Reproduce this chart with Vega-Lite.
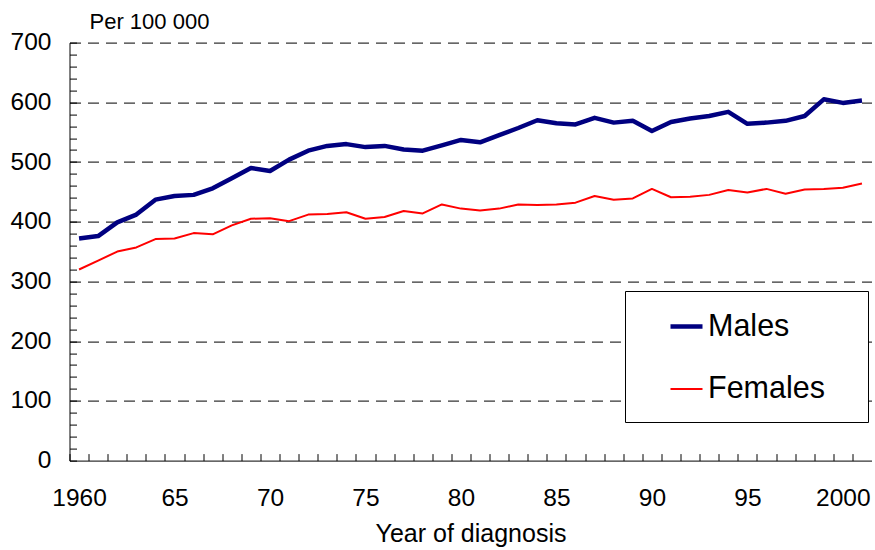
{
  "$schema": "https://vega.github.io/schema/vega-lite/v6.json",
  "width": 802,
  "height": 418,
  "autosize": "none",
  "padding": {"left": 69.5, "top": 42.6, "right": 3.5, "bottom": 89.4},
  "background": "white",
  "config": {"view": {"stroke": null}, "font": "Liberation Sans"},
  "data": {"values": [
    {"year":1960,"sex":"Males","rate":372},{"year":1961,"sex":"Males","rate":376},{"year":1962,"sex":"Males","rate":399},{"year":1963,"sex":"Males","rate":412},{"year":1964,"sex":"Males","rate":437},{"year":1965,"sex":"Males","rate":443},{"year":1966,"sex":"Males","rate":445},{"year":1967,"sex":"Males","rate":456},{"year":1968,"sex":"Males","rate":473},{"year":1969,"sex":"Males","rate":490},{"year":1970,"sex":"Males","rate":485},{"year":1971,"sex":"Males","rate":504},{"year":1972,"sex":"Males","rate":519},{"year":1973,"sex":"Males","rate":527},{"year":1974,"sex":"Males","rate":530},{"year":1975,"sex":"Males","rate":525},{"year":1976,"sex":"Males","rate":527},{"year":1977,"sex":"Males","rate":521},{"year":1978,"sex":"Males","rate":519},{"year":1979,"sex":"Males","rate":528},{"year":1980,"sex":"Males","rate":537},{"year":1981,"sex":"Males","rate":533},{"year":1982,"sex":"Males","rate":545},{"year":1983,"sex":"Males","rate":557},{"year":1984,"sex":"Males","rate":570},{"year":1985,"sex":"Males","rate":565},{"year":1986,"sex":"Males","rate":563},{"year":1987,"sex":"Males","rate":574},{"year":1988,"sex":"Males","rate":566},{"year":1989,"sex":"Males","rate":569},{"year":1990,"sex":"Males","rate":552},{"year":1991,"sex":"Males","rate":567},{"year":1992,"sex":"Males","rate":573},{"year":1993,"sex":"Males","rate":577},{"year":1994,"sex":"Males","rate":584},{"year":1995,"sex":"Males","rate":564},{"year":1996,"sex":"Males","rate":566},{"year":1997,"sex":"Males","rate":569},{"year":1998,"sex":"Males","rate":577},{"year":1999,"sex":"Males","rate":605},{"year":2000,"sex":"Males","rate":599},{"year":2001,"sex":"Males","rate":603},
    {"year":1960,"sex":"Females","rate":320},{"year":1961,"sex":"Females","rate":335},{"year":1962,"sex":"Females","rate":350},{"year":1963,"sex":"Females","rate":357},{"year":1964,"sex":"Females","rate":371},{"year":1965,"sex":"Females","rate":372},{"year":1966,"sex":"Females","rate":381},{"year":1967,"sex":"Females","rate":379},{"year":1968,"sex":"Females","rate":394},{"year":1969,"sex":"Females","rate":405},{"year":1970,"sex":"Females","rate":406},{"year":1971,"sex":"Females","rate":401},{"year":1972,"sex":"Females","rate":412},{"year":1973,"sex":"Females","rate":413},{"year":1974,"sex":"Females","rate":416},{"year":1975,"sex":"Females","rate":405},{"year":1976,"sex":"Females","rate":408},{"year":1977,"sex":"Females","rate":418},{"year":1978,"sex":"Females","rate":414},{"year":1979,"sex":"Females","rate":429},{"year":1980,"sex":"Females","rate":422},{"year":1981,"sex":"Females","rate":419},{"year":1982,"sex":"Females","rate":422},{"year":1983,"sex":"Females","rate":429},{"year":1984,"sex":"Females","rate":428},{"year":1985,"sex":"Females","rate":429},{"year":1986,"sex":"Females","rate":432},{"year":1987,"sex":"Females","rate":443},{"year":1988,"sex":"Females","rate":437},{"year":1989,"sex":"Females","rate":439},{"year":1990,"sex":"Females","rate":455},{"year":1991,"sex":"Females","rate":441},{"year":1992,"sex":"Females","rate":442},{"year":1993,"sex":"Females","rate":445},{"year":1994,"sex":"Females","rate":453},{"year":1995,"sex":"Females","rate":449},{"year":1996,"sex":"Females","rate":455},{"year":1997,"sex":"Females","rate":447},{"year":1998,"sex":"Females","rate":454},{"year":1999,"sex":"Females","rate":455},{"year":2000,"sex":"Females","rate":457},{"year":2001,"sex":"Females","rate":464}
  ]},
  "mark": {"type": "line", "strokeJoin": "round"},
  "encoding": {
    "x": {
      "field": "year", "type": "quantitative",
      "scale": {"domain": [1959.5, 2001.5], "nice": false, "zero": false},
      "axis": {
        "values": [1959.5,1960.5,1961.5,1962.5,1963.5,1964.5,1965.5,1966.5,1967.5,1968.5,1969.5,1970.5,1971.5,1972.5,1973.5,1974.5,1975.5,1976.5,1977.5,1978.5,1979.5,1980.5,1981.5,1982.5,1983.5,1984.5,1985.5,1986.5,1987.5,1988.5,1989.5,1990.5,1991.5,1992.5,1993.5,1994.5,1995.5,1996.5,1997.5,1998.5,1999.5,2000.5],
        "labelExpr": "(datum.value + 0.5) % 5 === 0 ? (((datum.value + 0.5) === 1960 || (datum.value + 0.5) === 2000) ? toString(datum.value + 0.5) : toString((datum.value + 0.5) % 100)) : ''",
        "labelOffset": 9.55,
        "labelOverlap": false,
        "labelFlush": false,
        "labelBound": false,
        "tickSize": -7,
        "tickColor": "black",
        "domainColor": "black",
        "grid": false,
        "labelFontSize": 24.5,
        "labelColor": "black",
        "labelPadding": 33,
        "title": "Year of diagnosis",
        "titleFontSize": 25,
        "titleFontWeight": "normal",
        "titleColor": "black",
        "titleY": 80.4,
        "titleBaseline": "alphabetic"
      }
    },
    "y": {
      "field": "rate", "type": "quantitative",
      "scale": {"domain": [0, 700], "nice": false},
      "axis": {
        "values": [0,20,40,60,80,100,120,140,160,180,200,220,240,260,280,300,320,340,360,380,400,420,440,460,480,500,520,540,560,580,600,620,640,660,680,700],
        "labelExpr": "datum.value % 100 === 0 ? datum.label : ''",
        "labelOverlap": false,
        "labelFlush": false,
        "tickSize": -7,
        "tickColor": "black",
        "domainColor": "black",
        "grid": true,
        "gridDash": [11, 7],
        "gridColor": "black",
        "gridOpacity": {"condition": {"test": "datum.value % 100 === 0 && datum.value > 0", "value": 1}, "value": 0},
        "labelFontSize": 24.5,
        "labelColor": "black",
        "labelPadding": 25.5,
        "title": "Per 100 000",
        "titleAngle": 0,
        "titleAlign": "left",
        "titleX": 19.5,
        "titleY": -13.6,
        "titleBaseline": "alphabetic",
        "titleFontSize": 22,
        "titleFontWeight": "normal",
        "titleColor": "black"
      }
    },
    "color": {
      "field": "sex", "type": "nominal",
      "scale": {"domain": ["Males", "Females"], "range": ["#000080", "#ff0000"]},
      "legend": {
        "orient": "none",
        "legendX": 555.5,
        "legendY": 248.4,
        "title": null,
        "symbolType": "stroke",
        "symbolSize": 1024,
        "labelFontSize": 30.5,
        "labelColor": "black",
        "strokeColor": "black",
        "fillColor": "white",
        "padding": 17,
        "symbolOffset": 26,
        "labelOffset": 3,
        "rowPadding": 30,
        "labelLimit": 300,
        "labelExpr": "datum.label + '\u00a0\u00a0\u00a0\u200b'"
      }
    },
    "strokeWidth": {
      "field": "sex", "type": "nominal",
      "scale": {"domain": ["Males", "Females"], "range": [4.5, 2]},
      "legend": null
    }
  }
}
